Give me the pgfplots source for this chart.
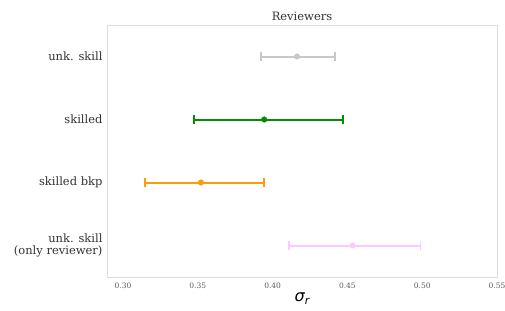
\documentclass[border=0pt]{standalone}
\usepackage{pgfplots}
\pgfplotsset{compat=1.18}
\usepackage{fontspec}
\setmainfont{DejaVu Serif}
\newfontfamily\dvs{DejaVu Sans}
\definecolor{cgray}{HTML}{C8C8C8}
\definecolor{cgreen}{HTML}{068B06}
\definecolor{corange}{HTML}{FF9A0A}
\definecolor{cpink}{HTML}{FFC8FF}
\definecolor{frame}{HTML}{DDDDDD}
\definecolor{txt}{HTML}{333333}
\pgfplotsset{
  ebar/.style={line width=2pt, mark=|, mark size=4.5pt, mark options={line width=1.8pt}},
  ctr/.style={only marks, mark=*, mark size=2.8pt}}
\begin{document}
\begin{tikzpicture}[x=1pt,y=1pt]
\useasboundingbox (0,0) rectangle (505,310);
\begin{axis}[
  at={(107pt,33pt)}, anchor=south west,
  scale only axis, width=390pt, height=252pt,
  xmin=0.2893, xmax=0.55, ymin=-0.5, ymax=3.5, y dir=reverse,
  axis line style={frame, line width=1pt},
  xtick={0.30,0.35,0.40,0.45,0.50,0.55},
  xticklabels={0.30,0.35,0.40,0.45,0.50,0.55},
  ytick={0,1,2,3},
  yticklabels={unk. skill, skilled, skilled bkp, {unk. skill\\(only reviewer)}},
  major tick length=0pt,
  xticklabel style={font=\fontsize{7.5}{9}\selectfont, text=txt!80, yshift=-2pt},
  yticklabel style={font=\fontsize{11.5}{12}\selectfont, text=txt, align=right, xshift=-1pt},
  title={Reviewers},
  title style={font=\fontsize{11.5}{13}\selectfont, text=txt, yshift=-5pt},
  xlabel={{\dvs\itshape σ}\raisebox{-3pt}{\dvs\itshape\fontsize{11}{11}\selectfont r}},
  xlabel style={font=\fontsize{16}{16}\selectfont, text=black, yshift=2pt},
]
% unk. skill
\addplot[cgray, ebar] coordinates {(0.3920,0) (0.4417,0)};
\addplot[cgray, ctr] coordinates {(0.4163,0)};
% skilled
\addplot[cgreen, ebar] coordinates {(0.3477,1) (0.4471,1)};
\addplot[cgreen, ctr] coordinates {(0.3944,1)};
% skilled bkp
\addplot[corange, ebar] coordinates {(0.3147,2) (0.3940,2)};
\addplot[corange, ctr] coordinates {(0.3521,2)};
% unk. skill (only reviewer)
\addplot[cpink, ebar] coordinates {(0.4112,3) (0.4988,3)};
\addplot[cpink, ctr] coordinates {(0.4535,3)};
\end{axis}
\end{tikzpicture}
\end{document}
